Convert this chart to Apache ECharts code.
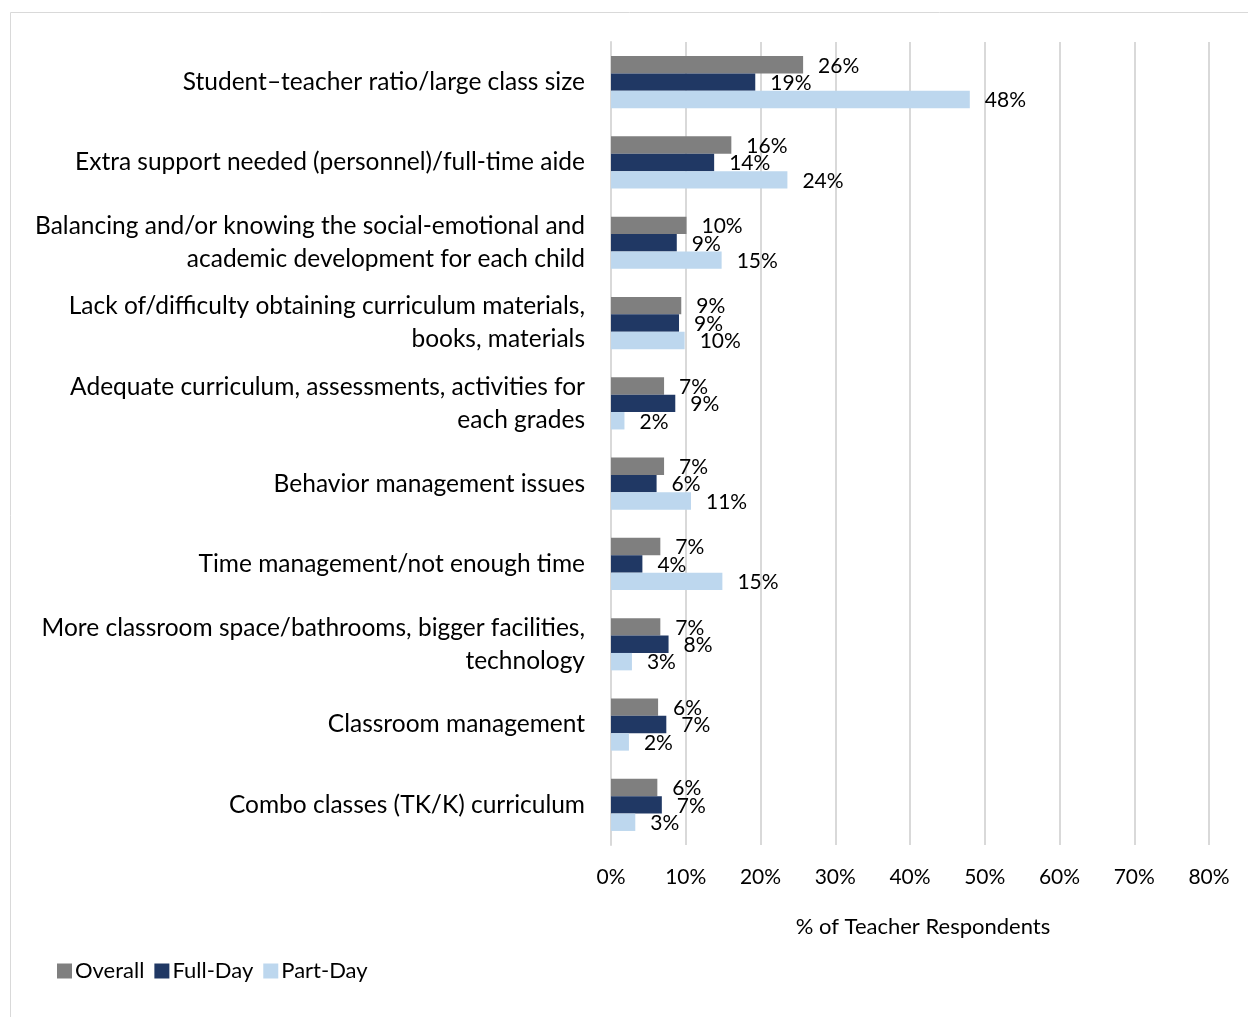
<!DOCTYPE html>
<html><head><meta charset="utf-8">
<script src="https://cdn.jsdelivr.net/npm/echarts@6/dist/echarts.min.js"></script>
<style>html,body{margin:0;padding:0;background:#fff}#c{width:1248px;height:1017px}</style>
</head><body><div id="c"></div>
<script>
const categories = [
  "Student\u2013teacher ratio/large class size",
  "Extra support needed (personnel)/full-time aide",
  "Balancing and/or knowing the social-emotional and\nacademic development for each child",
  "Lack of/difficulty obtaining curriculum materials,\nbooks, materials",
  "Adequate curriculum, assessments, activities for\neach grades",
  "Behavior management issues",
  "Time management/not enough time",
  "More classroom space/bathrooms, bigger facilities,\ntechnology",
  "Classroom management",
  "Combo classes (TK/K) curriculum"
];
const overall = [25.7, 16.1, 10.1, 9.4, 7.1, 7.1, 6.6, 6.6, 6.3, 6.2];
const fullDay = [19.3, 13.8, 8.8, 9.1, 8.6, 6.1, 4.2, 7.7, 7.4, 6.8];
const partDay = [48.0, 23.6, 14.8, 9.85, 1.8, 10.7, 14.9, 2.8, 2.4, 3.25];
const xTicks = [0, 10, 20, 30, 40, 50, 60, 70, 80];
const seriesNames = ["Overall", "Full-Day", "Part-Day"];
const colors = ["#7f7f7f", "#203864", "#bdd7ee"];

const FONT = "Lato";
const chart = echarts.init(document.getElementById('c'));
const lbl = {show: true, position: 'right', distance: 15, color: '#000', fontFamily: FONT, fontSize: 21,
  offset: [0, 1], formatter: p => Math.round(p.value) + '%'};
const mk = (name, data, i) => ({
  name, type: 'bar', data, itemStyle: {color: colors[i]}, label: lbl,
  barGap: '0%', barCategoryGap: '35%'
});
chart.setOption({
  animation: false,
  textStyle: {fontFamily: FONT},
  graphic: [{type: 'rect', shape: {x: 10.5, y: 12.5, width: 1400, height: 1200},
    style: {fill: 'none', stroke: '#d9d9d9', lineWidth: 1}, silent: true}],
  grid: {left: 611, right: 39, top: 42, bottom: 172},
  legend: {left: 52, top: 955, itemWidth: 15, itemHeight: 15, itemGap: 10,
    icon: 'rect', data: seriesNames,
    textStyle: {fontFamily: FONT, fontSize: 22, color: '#000', padding: [0, 0, 0, -2]}},
  xAxis: {type: 'value', min: xTicks[0], max: xTicks[xTicks.length - 1], interval: 10,
    name: '% of Teacher Respondents', nameLocation: 'middle', nameGap: 71,
    nameTextStyle: {fontFamily: FONT, fontSize: 22, color: '#000', padding: [0, 0, 0, 26]},
    axisLine: {show: false}, axisTick: {show: false},
    axisLabel: {formatter: v => v + '%', fontFamily: FONT, fontSize: 21, color: '#000', margin: 22},
    splitLine: {show: true, lineStyle: {color: '#d9d9d9', width: 2}}},
  yAxis: {type: 'category', data: categories, inverse: true,
    axisLine: {show: true, lineStyle: {color: '#d9d9d9', width: 2}}, axisTick: {show: false},
    axisLabel: {fontFamily: FONT, fontSize: 24.5, color: '#000', margin: 26, lineHeight: 33, align: 'right'}},
  series: [mk(seriesNames[0], overall, 0), mk(seriesNames[1], fullDay, 1), mk(seriesNames[2], partDay, 2)]
});
</script></body></html>
